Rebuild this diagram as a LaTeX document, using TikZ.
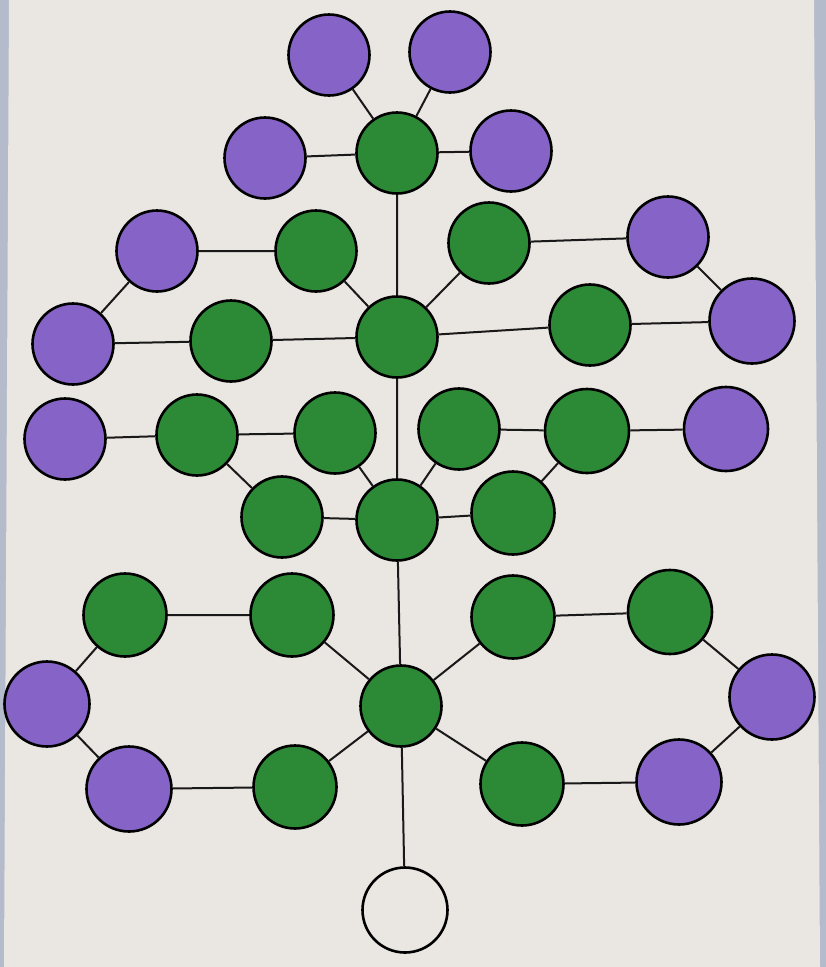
\documentclass[tikz,border=0pt]{standalone}
\begin{document}
\begin{tikzpicture}[x=1pt,y=-1pt,
  ball/.style={circle,draw=black,line width=2.6pt,minimum size=81pt,inner sep=0pt},
  gball/.style={ball,fill=grn},
  pball/.style={ball,fill=prp},
  wball/.style={ball,fill=paper},
  link/.style={draw=black!90,line width=2pt}]
\definecolor{grn}{HTML}{2C8A36}
\definecolor{prp}{HTML}{8663C6}
\definecolor{paper}{HTML}{EAE6E2}
\definecolor{table}{HTML}{B4BCCB}
\useasboundingbox (0,0) rectangle (826,967);
\fill[table] (0,0) rectangle (826,967);
\fill[paper] (9,0) -- (814,0) -- (820,967) -- (4,967) -- cycle;
% top cluster
\node[gball] (g1) at (397,153) {};
\node[pball] (p1) at (329,55) {};
\node[pball] (p2) at (450,52) {};
\node[pball] (p3) at (265,158) {};
\node[pball] (p4) at (511,151) {};
% second cluster
\node[gball] (g2) at (397,337) {};
\node[pball] (p5) at (157,251) {};
\node[gball] (g5) at (316,251) {};
\node[gball] (g6) at (489,243) {};
\node[pball] (p6) at (668,237) {};
\node[pball] (p7) at (73,344) {};
\node[gball] (g7) at (231,341) {};
\node[gball] (g8) at (590,325) {};
\node[pball,minimum size=85pt] (p8) at (752,321) {};
% third cluster
\node[gball] (g3) at (397,520) {};
\node[pball] (p9) at (65,439) {};
\node[gball] (g9) at (197,435) {};
\node[gball] (g10) at (335,433) {};
\node[gball] (g11) at (459,429) {};
\node[gball,minimum size=84pt] (g12) at (587,431) {};
\node[pball,minimum size=84pt] (p10) at (726,429) {};
\node[gball] (g13) at (282,517) {};
\node[gball,minimum size=83pt] (g14) at (513,513) {};
% fourth cluster
\node[gball] (g4) at (401,706) {};
\node[gball,minimum size=83pt] (g15) at (125,615) {};
\node[gball,minimum size=83pt] (g16) at (292,615) {};
\node[gball,minimum size=83pt] (g17) at (513,617) {};
\node[gball,minimum size=84pt] (g18) at (670,612) {};
\node[pball,minimum size=85pt] (p11) at (47,704) {};
\node[pball,minimum size=85pt] (p12) at (772,697) {};
\node[pball,minimum size=85pt] (p13) at (129,789) {};
\node[gball,minimum size=83pt] (g19) at (295,787) {};
\node[gball,minimum size=83pt] (g20) at (522,784) {};
\node[pball,minimum size=85pt] (p14) at (679,782) {};
% bottom
\node[wball,minimum size=85pt] (w) at (405,910) {};
% links
\path[link] (p1)--(g1) (p2)--(g1) (p3)--(g1) (p4)--(g1) (g1)--(g2);
\path[link] (p5)--(g5) (p5)--(p7) (p7)--(g7) (g7)--(g2) (g5)--(g2)
  (g6)--(g2) (g6)--(p6) (p6)--(p8) (p8)--(g8) (g8)--(g2) (g2)--(g3);
\path[link] (p9)--(g9) (g9)--(g10) (g9)--(g13) (g13)--(g3) (g10)--(g3)
  (g11)--(g3) (g11)--(g12) (g12)--(p10) (g12)--(g14) (g14)--(g3) (g3)--(g4);
\path[link] (g15)--(g16) (g16)--(g4) (g15)--(p11) (p11)--(p13) (p13)--(g19)
  (g19)--(g4) (g17)--(g4) (g17)--(g18) (g18)--(p12) (p12)--(p14)
  (p14)--(g20) (g20)--(g4) (g4)--(w);
\end{tikzpicture}
\end{document}
